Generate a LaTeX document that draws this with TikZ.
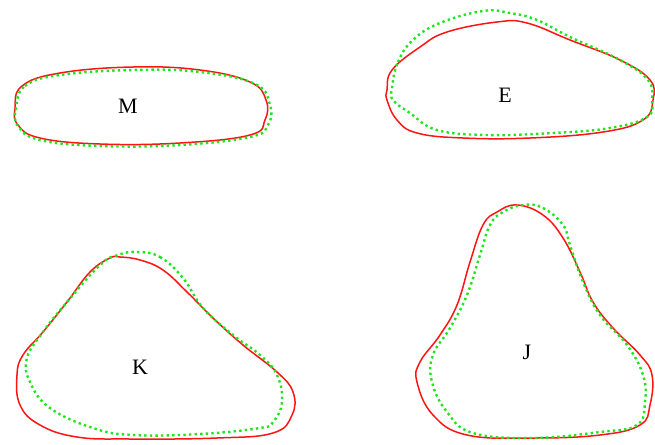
\documentclass[tikz,border=0pt]{standalone}
\usepackage{fontspec}
\setmainfont{Liberation Serif}
\begin{document}
\begin{tikzpicture}[x=1pt,y=-1pt,
  redline/.style={draw={rgb,255:red,255;green,20;blue,20},line width=1.5pt},
  greenline/.style={draw={rgb,255:red,30;green,230;blue,30},line width=2.4pt,dash pattern=on 2.4pt off 3.2pt},
  lbl/.style={font=\fontsize{22}{26}\selectfont,inner sep=0pt}]
\useasboundingbox (0,0) rectangle (655,444);
% M
\draw[redline] plot[smooth cycle,tension=0.7] coordinates {(15,108) (22,86) (60,73) (133,67) (200,70) (250,82) (266,100) (265,120) (250,135) (180,143) (100,144) (40,138) (18,125)};
\draw[greenline] plot[smooth cycle,tension=0.7] coordinates {(16,108) (25,86) (60,75) (133,70) (200,72) (255,84) (270,105) (268,125) (250,137) (180,145) (100,146) (40,140) (18,126)};
\node[lbl] (M) at (128,106) {M};
% E
\draw[redline] plot[smooth cycle,tension=0.7] coordinates {(387,90) (392,70) (420,47) (447,32) (497,22) (527,23) (570,40) (620,60) (650,80) (653,100) (643,120) (603,132) (530,138) (463,138) (417,133) (397,120) (387,100)};
\draw[greenline] plot[smooth cycle,tension=0.7] coordinates {(392,88) (398,62) (413,40) (440,23) (483,11) (510,13) (537,20) (570,37) (620,60) (648,80) (652,100) (647,117) (610,128) (553,133) (487,135) (437,130) (410,113) (393,100)};
\node[lbl] (E) at (505,95) {E};
% K
\draw[redline] plot[smooth cycle,tension=0.7] coordinates {(120,257) (140,260) (163,270) (187,292) (213,318) (243,345) (277,372) (293,392) (292,415) (273,433) (217,438) (130,439) (77,437) (40,425) (20,405) (17,375) (23,355) (43,332) (67,302) (90,272) (110,258)};
\draw[greenline] plot[smooth cycle,tension=0.7] coordinates {(137,252) (160,257) (183,278) (203,308) (233,335) (260,355) (277,375) (282,402) (273,422) (260,428) (200,434) (133,435) (93,428) (50,408) (30,382) (27,358) (43,332) (67,302) (100,265) (118,255)};
\node[lbl] (K) at (140,367) {K};
% J
\draw[redline] plot[smooth cycle,tension=0.7] coordinates {(517,205) (543,215) (563,238) (580,272) (593,302) (613,328) (640,355) (652,375) (650,405) (640,425) (600,435) (533,438) (467,435) (433,415) (417,382) (420,362) (440,335) (457,305) (470,262) (483,225) (497,212)};
\draw[greenline] plot[smooth cycle,tension=0.7] coordinates {(523,205) (543,208) (563,225) (570,245) (583,282) (600,315) (627,345) (643,375) (645,402) (637,425) (600,432) (533,438) (473,433) (447,412) (432,382) (433,355) (450,328) (467,295) (480,255) (490,225) (503,212)};
\node[lbl] (J) at (527,352) {J};
\end{tikzpicture}
\end{document}
